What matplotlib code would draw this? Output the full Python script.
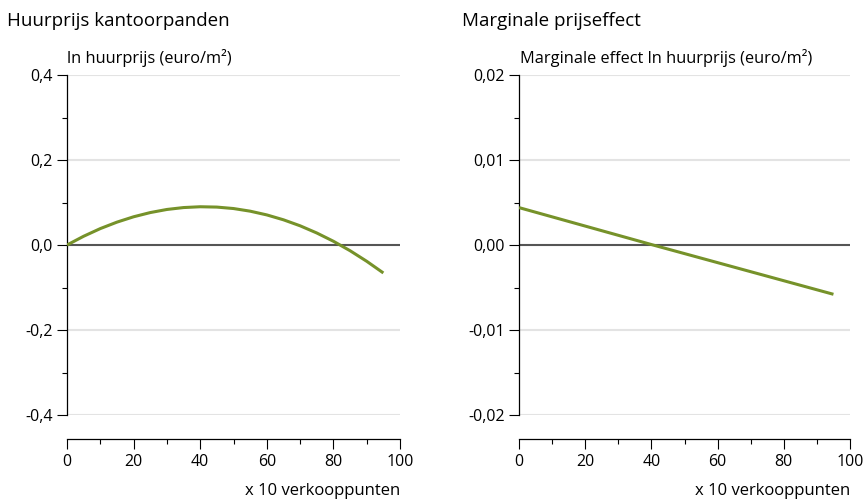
import numpy as np
import matplotlib
matplotlib.use("Agg")
import matplotlib.pyplot as plt
from matplotlib.ticker import FuncFormatter, MultipleLocator

plt.rcParams['font.family'] = ['Open Sans', 'DejaVu Sans']

# waarden
verkooppunten = [0, 5, 10, 15, 20, 25, 30, 35, 40, 45, 50, 55, 60, 65, 70, 75, 80, 85, 90, 95]
ln_huurprijs = [0.0, 0.0206, 0.0386, 0.0538, 0.0664, 0.0763, 0.0836, 0.0881, 0.0900, 0.0892,
                0.0858, 0.0796, 0.0708, 0.0593, 0.0452, 0.0283, 0.0088, -0.0134, -0.0383, -0.0658]

marg_x = [0, 40.5, 95]
marg_effect = [0.0044, 0.0, -0.0058]

titels = ["Huurprijs kantoorpanden", "Marginale prijseffect"]
ylabels = ["ln huurprijs (euro/m²)", "Marginale effect ln huurprijs (euro/m²)"]

groen = "#76922a"

fig = plt.figure(figsize=(8.65, 5.01), dpi=100)
ax1 = fig.add_axes([67/865, 1-415/501, 333/865, 340/501])
ax2 = fig.add_axes([519/865, 1-415/501, 331/865, 340/501])


def fmt(dec):
    def f(v, p):
        if abs(v) < 1e-12:
            v = 0.0
        return f"{v:.{dec}f}".replace(".", ",")
    return FuncFormatter(f)


def opmaak(ax, ylim, ymaj, dec, titel, ylabel, titel_x, label_x):
    ax.set_xlim(0, 100)
    ax.set_ylim(*ylim)
    ax.xaxis.set_major_locator(MultipleLocator(20))
    ax.xaxis.set_minor_locator(MultipleLocator(10))
    ax.yaxis.set_major_locator(MultipleLocator(ymaj))
    ax.yaxis.set_minor_locator(MultipleLocator(ymaj/2))
    ax.yaxis.set_major_formatter(fmt(dec))
    ax.xaxis.set_major_formatter(FuncFormatter(lambda v, p: f"{v:.0f}"))
    for s in ["top", "right"]:
        ax.spines[s].set_visible(False)
    ax.spines["bottom"].set_position(("outward", 17))
    ax.spines["left"].set_linewidth(0.9)
    ax.spines["bottom"].set_linewidth(0.9)
    ax.tick_params(which="major", length=7.2, width=0.8, labelsize=11.5, colors="black")
    ax.tick_params(which="minor", length=3.6, width=0.8)
    ax.tick_params(axis="y", pad=3)
    ax.tick_params(axis="x", pad=4)
    for t in ax.yaxis.get_majorticklocs():
        if abs(t) < 1e-12:
            ax.axhline(t, color="#555555", lw=1.5, zorder=1)
        else:
            ax.axhline(t, color="#e3e3e3", lw=1.5, zorder=0)
    fig.text(titel_x/865, 1-21/501, titel, fontsize=13.5, va="center", ha="left")
    fig.text(label_x/865, 1-58/501, ylabel, fontsize=11.8, va="center", ha="left")
    pos = ax.get_position()
    fig.text(pos.x1, 1-491/501, "x 10 verkooppunten", fontsize=12, va="center", ha="right")


opmaak(ax1, (-0.4, 0.4), 0.2, 1, titels[0], ylabels[0], 7, 67)
opmaak(ax2, (-0.02, 0.02), 0.01, 2, titels[1], ylabels[1], 462, 520)

ax1.plot(verkooppunten, ln_huurprijs, color=groen, lw=2.2, zorder=3, solid_capstyle="butt")
ax2.plot(marg_x, marg_effect, color=groen, lw=2.2, zorder=3, solid_capstyle="butt")

plt.savefig("out.png", dpi=100)
